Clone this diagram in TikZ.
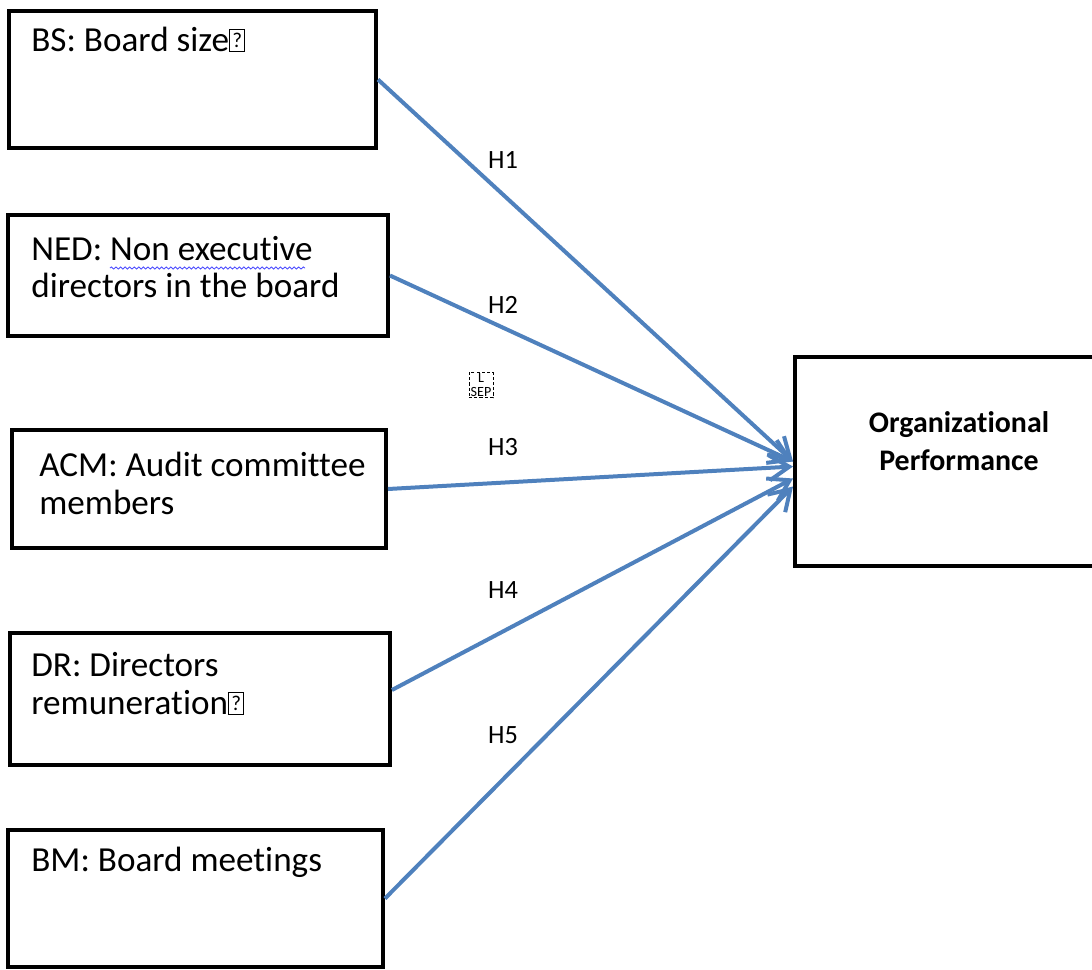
\documentclass[tikz,border=0pt]{standalone}
\usepackage{fontspec}
\setmainfont{Carlito}[RawFeature={-liga;-calt;-clig}]
\usetikzlibrary{positioning,arrows.meta,decorations.pathmorphing}
\definecolor{azul}{RGB}{79,129,189}
\newcommand{\cuadro}{{\fboxsep=0pt\fboxrule=0.7pt\fbox{\makebox[0.28cm]{\rule{0pt}{0.42cm}\raisebox{0.07cm}{\fontsize{12}{12}\selectfont ?}}}}}
\tikzset{
  caja/.style={draw=black, line width=0.08cm, inner sep=0pt},
  texto/.style={inner sep=0pt, align=left, font=\fontsize{20}{21.6}\selectfont},
  flecha/.style={draw=azul, line width=0.08cm, -{Straight Barb[length=0.4cm,width=0.5cm]}},
  hip/.style={font=\fontsize{15}{16}\selectfont}
}
\begin{document}
\begin{tikzpicture}[x=0.02cm, y=-0.02cm]
        % Marco
        \useasboundingbox (0,0) rectangle (1092,970);
        \clip (0,0) rectangle (1092,970);
        % Cajas
        \node[caja, minimum width=7.34cm, minimum height=2.74cm] (bs) at (192.5,79.5) {};
        \node[caja, minimum width=7.6cm, minimum height=2.42cm] (ned) at (198,275.5) {};
        \node[caja, minimum width=7.48cm, minimum height=2.36cm] (acm) at (199,489) {};
        \node[caja, minimum width=7.6cm, minimum height=2.64cm] (dr) at (200,699) {};
        \node[caja, minimum width=7.5cm, minimum height=2.74cm] (bm) at (195.5,898.5) {};
        \node[caja, minimum width=6.56cm, minimum height=4.18cm] (op) at (959,461.5) {};
        % Textos
        \node[texto, below right=0.84cm and 0.48cm of bs.north west, anchor=base west] (bstxt) {BS: Board size\cuadro};
        \node[texto, below right=1.70cm and 0.5cm of ned.north west, anchor=base west] (nedtxt) {NED: Non executive\\directors in the board};
        \node[texto, below right=1.72cm and 0.58cm of acm.north west, anchor=base west] (acmtxt) {ACM: Audit committee\\members};
        \node[texto, below right=1.66cm and 0.46cm of dr.north west, anchor=base west] (drtxt) {DR: Directors\\remuneration\cuadro};
        \node[texto, below right=0.86cm and 0.5cm of bm.north west, anchor=base west] (bmtxt) {BM: Board meetings};
        \node[align=center, inner sep=0pt, font=\bfseries\fontsize{17}{22}\selectfont] (optxt) at (959,441) {Organizational\\Performance};
        % Subrayado ondulado
        \draw[color=blue!70!white, line width=0.5pt, decorate, decoration={snake, amplitude=0.6pt, segment length=2.6pt}] (110,268) -- (305,268);
        % Marca
        \node[draw, dashed, dash pattern=on 1.8pt off 1.2pt, line width=0.5pt, inner sep=1pt, align=center, font=\fontsize{8}{7.5}\selectfont] (sep) at (481,385) {L\\SEP};
        % Flechas
        \draw[flecha] (bs.east) -- (op.west);
        \draw[flecha] (ned.east) -- (op.west);
        \draw[flecha] (acm.east) -- ([yshift=-0.1cm]op.west);
        \draw[flecha] ([yshift=0.18cm]dr.east) -- ([yshift=-0.34cm]op.west);
        \draw[flecha] (bm.east) -- ([yshift=-0.5cm]op.west);
        % Hipotesis
        \node[hip] (h1) at (503,160) {H1};
        \node[hip] (h2) at (503,305) {H2};
        \node[hip] (h3) at (503,447) {H3};
        \node[hip] (h4) at (503,590) {H4};
        \node[hip] (h5) at (503,735) {H5};
    \end{tikzpicture}
\end{document}
